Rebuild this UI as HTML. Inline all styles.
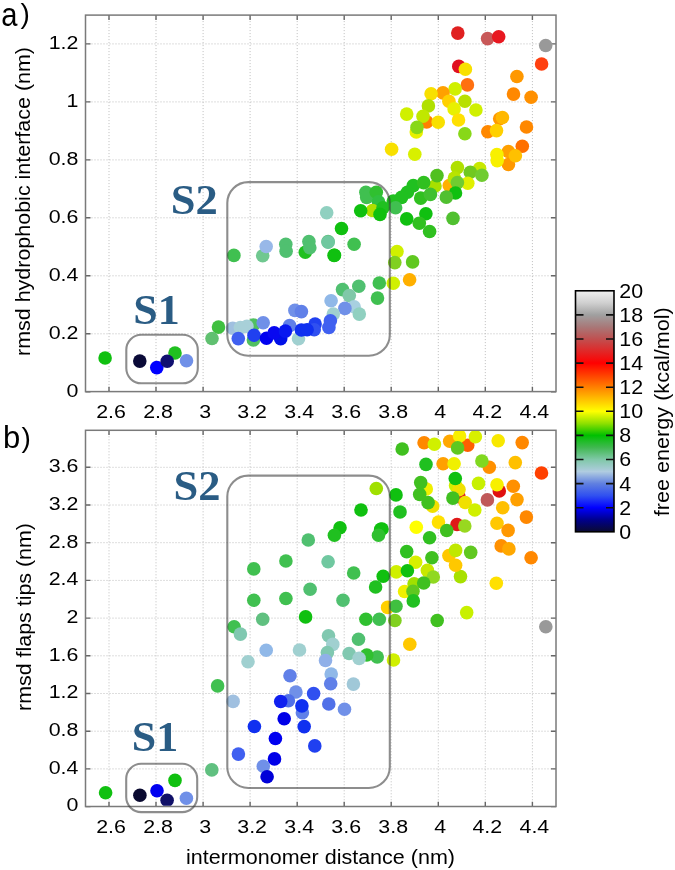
<!DOCTYPE html><html><head><meta charset="utf-8"><style>html,body{margin:0;padding:0;background:#fff;}svg{display:block;will-change:transform;}text{font-family:"Liberation Sans",sans-serif;}</style></head><body>
<svg width="675" height="870" viewBox="0 0 675 870">
<defs><linearGradient id="cb" x1="0" y1="1" x2="0" y2="0">
<stop offset="0.000" stop-color="#0a0a30"/>
<stop offset="0.050" stop-color="#00008c"/>
<stop offset="0.100" stop-color="#0000ff"/>
<stop offset="0.150" stop-color="#3050f0"/>
<stop offset="0.200" stop-color="#6080e0"/>
<stop offset="0.250" stop-color="#b0cce0"/>
<stop offset="0.300" stop-color="#80c8a8"/>
<stop offset="0.350" stop-color="#40b850"/>
<stop offset="0.400" stop-color="#00c000"/>
<stop offset="0.450" stop-color="#90e000"/>
<stop offset="0.500" stop-color="#ffff00"/>
<stop offset="0.550" stop-color="#ffc000"/>
<stop offset="0.600" stop-color="#ff8000"/>
<stop offset="0.650" stop-color="#ff4000"/>
<stop offset="0.700" stop-color="#ff0000"/>
<stop offset="0.750" stop-color="#e02828"/>
<stop offset="0.800" stop-color="#c05050"/>
<stop offset="0.850" stop-color="#a87878"/>
<stop offset="0.900" stop-color="#a0a0a0"/>
<stop offset="0.950" stop-color="#d0d0d0"/>
<stop offset="1.000" stop-color="#f0f0f0"/>
</linearGradient></defs>
<clipPath id="ca"><rect x="86.2" y="15.799999999999999" width="469.1" height="375.1"/></clipPath>
<clipPath id="cb2"><rect x="86.2" y="431.0" width="469.1" height="374.8"/></clipPath>
<path d="M109.0 15.1V391.6M156.0 15.1V391.6M203.1 15.1V391.6M250.1 15.1V391.6M297.2 15.1V391.6M344.2 15.1V391.6M391.2 15.1V391.6M438.3 15.1V391.6M485.3 15.1V391.6M532.4 15.1V391.6M85.5 333.8H556.0M85.5 275.8H556.0M85.5 217.8H556.0M85.5 159.9H556.0M85.5 101.9H556.0M85.5 43.9H556.0" stroke="#bdbdbd" stroke-width="1" stroke-dasharray="1 2" fill="none"/>
<path d="M109.0 391.6v-4.8M109.0 15.1v4.8M156.0 391.6v-4.8M156.0 15.1v4.8M203.1 391.6v-4.8M203.1 15.1v4.8M250.1 391.6v-4.8M250.1 15.1v4.8M297.2 391.6v-4.8M297.2 15.1v4.8M344.2 391.6v-4.8M344.2 15.1v4.8M391.2 391.6v-4.8M391.2 15.1v4.8M438.3 391.6v-4.8M438.3 15.1v4.8M485.3 391.6v-4.8M485.3 15.1v4.8M532.4 391.6v-4.8M532.4 15.1v4.8M85.5 391.8h5M556.0 391.8h-5M85.5 333.8h5M556.0 333.8h-5M85.5 275.8h5M556.0 275.8h-5M85.5 217.8h5M556.0 217.8h-5M85.5 159.9h5M556.0 159.9h-5M85.5 101.9h5M556.0 101.9h-5M85.5 43.9h5M556.0 43.9h-5" stroke="#666" stroke-width="1.4" fill="none"/>
<rect x="85.5" y="15.1" width="470.5" height="376.5" fill="none" stroke="#7a7a7a" stroke-width="1.5"/>
<text x="78.4" y="396.6" font-size="18.8" text-anchor="end" textLength="11.9" lengthAdjust="spacingAndGlyphs">0</text>
<text x="78.4" y="338.6" font-size="18.8" text-anchor="end" textLength="29.7" lengthAdjust="spacingAndGlyphs">0.2</text>
<text x="78.4" y="280.6" font-size="18.8" text-anchor="end" textLength="29.7" lengthAdjust="spacingAndGlyphs">0.4</text>
<text x="78.4" y="222.6" font-size="18.8" text-anchor="end" textLength="29.7" lengthAdjust="spacingAndGlyphs">0.6</text>
<text x="78.4" y="164.7" font-size="18.8" text-anchor="end" textLength="29.7" lengthAdjust="spacingAndGlyphs">0.8</text>
<text x="78.4" y="106.7" font-size="18.8" text-anchor="end" textLength="11.9" lengthAdjust="spacingAndGlyphs">1</text>
<text x="78.4" y="48.7" font-size="18.8" text-anchor="end" textLength="29.7" lengthAdjust="spacingAndGlyphs">1.2</text>
<text x="111.0" y="417.8" font-size="18.8" text-anchor="middle" textLength="29.7" lengthAdjust="spacingAndGlyphs">2.6</text>
<text x="158.0" y="417.8" font-size="18.8" text-anchor="middle" textLength="29.7" lengthAdjust="spacingAndGlyphs">2.8</text>
<text x="205.1" y="417.8" font-size="18.8" text-anchor="middle" textLength="11.9" lengthAdjust="spacingAndGlyphs">3</text>
<text x="252.1" y="417.8" font-size="18.8" text-anchor="middle" textLength="29.7" lengthAdjust="spacingAndGlyphs">3.2</text>
<text x="299.2" y="417.8" font-size="18.8" text-anchor="middle" textLength="29.7" lengthAdjust="spacingAndGlyphs">3.4</text>
<text x="346.2" y="417.8" font-size="18.8" text-anchor="middle" textLength="29.7" lengthAdjust="spacingAndGlyphs">3.6</text>
<text x="393.2" y="417.8" font-size="18.8" text-anchor="middle" textLength="29.7" lengthAdjust="spacingAndGlyphs">3.8</text>
<text x="440.3" y="417.8" font-size="18.8" text-anchor="middle" textLength="11.9" lengthAdjust="spacingAndGlyphs">4</text>
<text x="487.3" y="417.8" font-size="18.8" text-anchor="middle" textLength="29.7" lengthAdjust="spacingAndGlyphs">4.2</text>
<text x="534.4" y="417.8" font-size="18.8" text-anchor="middle" textLength="29.7" lengthAdjust="spacingAndGlyphs">4.4</text>
<path d="M109.0 430.3V806.5M156.0 430.3V806.5M203.1 430.3V806.5M250.1 430.3V806.5M297.2 430.3V806.5M344.2 430.3V806.5M391.2 430.3V806.5M438.3 430.3V806.5M485.3 430.3V806.5M532.4 430.3V806.5M85.5 768.9H556.0M85.5 731.2H556.0M85.5 693.5H556.0M85.5 655.8H556.0M85.5 618.1H556.0M85.5 580.4H556.0M85.5 542.7H556.0M85.5 505.0H556.0M85.5 467.3H556.0" stroke="#bdbdbd" stroke-width="1" stroke-dasharray="1 2" fill="none"/>
<path d="M109.0 806.5v-4.8M109.0 430.3v4.8M156.0 806.5v-4.8M156.0 430.3v4.8M203.1 806.5v-4.8M203.1 430.3v4.8M250.1 806.5v-4.8M250.1 430.3v4.8M297.2 806.5v-4.8M297.2 430.3v4.8M344.2 806.5v-4.8M344.2 430.3v4.8M391.2 806.5v-4.8M391.2 430.3v4.8M438.3 806.5v-4.8M438.3 430.3v4.8M485.3 806.5v-4.8M485.3 430.3v4.8M532.4 806.5v-4.8M532.4 430.3v4.8M85.5 806.6h5M556.0 806.6h-5M85.5 768.9h5M556.0 768.9h-5M85.5 731.2h5M556.0 731.2h-5M85.5 693.5h5M556.0 693.5h-5M85.5 655.8h5M556.0 655.8h-5M85.5 618.1h5M556.0 618.1h-5M85.5 580.4h5M556.0 580.4h-5M85.5 542.7h5M556.0 542.7h-5M85.5 505.0h5M556.0 505.0h-5M85.5 467.3h5M556.0 467.3h-5" stroke="#666" stroke-width="1.4" fill="none"/>
<rect x="85.5" y="430.3" width="470.5" height="376.2" fill="none" stroke="#7a7a7a" stroke-width="1.5"/>
<text x="78.4" y="811.4" font-size="18.8" text-anchor="end" textLength="11.9" lengthAdjust="spacingAndGlyphs">0</text>
<text x="78.4" y="773.7" font-size="18.8" text-anchor="end" textLength="29.7" lengthAdjust="spacingAndGlyphs">0.4</text>
<text x="78.4" y="736.0" font-size="18.8" text-anchor="end" textLength="29.7" lengthAdjust="spacingAndGlyphs">0.8</text>
<text x="78.4" y="698.3" font-size="18.8" text-anchor="end" textLength="29.7" lengthAdjust="spacingAndGlyphs">1.2</text>
<text x="78.4" y="660.6" font-size="18.8" text-anchor="end" textLength="29.7" lengthAdjust="spacingAndGlyphs">1.6</text>
<text x="78.4" y="622.9" font-size="18.8" text-anchor="end" textLength="11.9" lengthAdjust="spacingAndGlyphs">2</text>
<text x="78.4" y="585.2" font-size="18.8" text-anchor="end" textLength="29.7" lengthAdjust="spacingAndGlyphs">2.4</text>
<text x="78.4" y="547.5" font-size="18.8" text-anchor="end" textLength="29.7" lengthAdjust="spacingAndGlyphs">2.8</text>
<text x="78.4" y="509.8" font-size="18.8" text-anchor="end" textLength="29.7" lengthAdjust="spacingAndGlyphs">3.2</text>
<text x="78.4" y="472.1" font-size="18.8" text-anchor="end" textLength="29.7" lengthAdjust="spacingAndGlyphs">3.6</text>
<text x="111.0" y="832.7" font-size="18.8" text-anchor="middle" textLength="29.7" lengthAdjust="spacingAndGlyphs">2.6</text>
<text x="158.0" y="832.7" font-size="18.8" text-anchor="middle" textLength="29.7" lengthAdjust="spacingAndGlyphs">2.8</text>
<text x="205.1" y="832.7" font-size="18.8" text-anchor="middle" textLength="11.9" lengthAdjust="spacingAndGlyphs">3</text>
<text x="252.1" y="832.7" font-size="18.8" text-anchor="middle" textLength="29.7" lengthAdjust="spacingAndGlyphs">3.2</text>
<text x="299.2" y="832.7" font-size="18.8" text-anchor="middle" textLength="29.7" lengthAdjust="spacingAndGlyphs">3.4</text>
<text x="346.2" y="832.7" font-size="18.8" text-anchor="middle" textLength="29.7" lengthAdjust="spacingAndGlyphs">3.6</text>
<text x="393.2" y="832.7" font-size="18.8" text-anchor="middle" textLength="29.7" lengthAdjust="spacingAndGlyphs">3.8</text>
<text x="440.3" y="832.7" font-size="18.8" text-anchor="middle" textLength="11.9" lengthAdjust="spacingAndGlyphs">4</text>
<text x="487.3" y="832.7" font-size="18.8" text-anchor="middle" textLength="29.7" lengthAdjust="spacingAndGlyphs">4.2</text>
<text x="534.4" y="832.7" font-size="18.8" text-anchor="middle" textLength="29.7" lengthAdjust="spacingAndGlyphs">4.4</text>
<g clip-path="url(#ca)">
<circle cx="457.8" cy="33.1" r="6.8" fill="#e02020"/>
<circle cx="487.6" cy="38.6" r="6.8" fill="#c85858"/>
<circle cx="498.7" cy="36.7" r="6.8" fill="#e81820"/>
<circle cx="545.7" cy="45.5" r="6.8" fill="#999999"/>
<circle cx="458.8" cy="66.4" r="6.8" fill="#e01020"/>
<circle cx="465.4" cy="69.2" r="6.8" fill="#f8e000"/>
<circle cx="541.6" cy="64.0" r="6.8" fill="#ff4010"/>
<circle cx="516.9" cy="76.5" r="6.8" fill="#ff9800"/>
<circle cx="467.4" cy="84.9" r="6.8" fill="#ff7010"/>
<circle cx="455.1" cy="88.9" r="6.8" fill="#d0f000"/>
<circle cx="443.0" cy="92.9" r="6.8" fill="#ffa000"/>
<circle cx="431.1" cy="93.8" r="6.8" fill="#f8e000"/>
<circle cx="513.5" cy="94.1" r="6.8" fill="#ff8800"/>
<circle cx="531.1" cy="97.2" r="6.8" fill="#ff9000"/>
<circle cx="448.9" cy="101.2" r="6.8" fill="#ffd000"/>
<circle cx="464.9" cy="101.2" r="6.8" fill="#b8e000"/>
<circle cx="428.4" cy="105.9" r="6.8" fill="#b0e000"/>
<circle cx="454.1" cy="108.9" r="6.8" fill="#e8f000"/>
<circle cx="475.9" cy="110.0" r="6.8" fill="#d0f000"/>
<circle cx="406.7" cy="114.1" r="6.8" fill="#d0f000"/>
<circle cx="426.7" cy="121.9" r="6.8" fill="#ff8000"/>
<circle cx="423.0" cy="116.3" r="6.8" fill="#c0e800"/>
<circle cx="438.2" cy="122.2" r="6.8" fill="#f8e000"/>
<circle cx="458.5" cy="120.0" r="6.8" fill="#ffe000"/>
<circle cx="499.7" cy="118.7" r="6.8" fill="#ff9800"/>
<circle cx="502.4" cy="117.5" r="6.8" fill="#ffb800"/>
<circle cx="526.5" cy="127.0" r="6.8" fill="#ff8800"/>
<circle cx="416.3" cy="131.9" r="6.8" fill="#e8f000"/>
<circle cx="417.0" cy="127.4" r="6.8" fill="#88d818"/>
<circle cx="464.9" cy="133.8" r="6.8" fill="#88d818"/>
<circle cx="487.8" cy="131.8" r="6.8" fill="#ff8800"/>
<circle cx="496.5" cy="130.6" r="6.8" fill="#ffd000"/>
<circle cx="414.8" cy="154.2" r="6.8" fill="#d8f000"/>
<circle cx="391.6" cy="149.2" r="6.8" fill="#f8e000"/>
<circle cx="522.3" cy="146.2" r="6.8" fill="#ff7000"/>
<circle cx="508.4" cy="151.5" r="6.8" fill="#ffa000"/>
<circle cx="508.4" cy="164.5" r="6.8" fill="#ff9800"/>
<circle cx="515.4" cy="155.7" r="6.8" fill="#ffc000"/>
<circle cx="497.2" cy="160.6" r="6.8" fill="#f8f000"/>
<circle cx="496.9" cy="154.6" r="6.8" fill="#f8f000"/>
<circle cx="449.3" cy="185.5" r="6.8" fill="#ffb000"/>
<circle cx="435.0" cy="186.0" r="6.8" fill="#a8e000"/>
<circle cx="457.4" cy="167.6" r="6.8" fill="#b0e000"/>
<circle cx="479.6" cy="168.5" r="6.8" fill="#c8e800"/>
<circle cx="470.3" cy="172.2" r="6.8" fill="#70c820"/>
<circle cx="481.9" cy="175.2" r="6.8" fill="#70cc30"/>
<circle cx="437.0" cy="175.6" r="6.8" fill="#50c020"/>
<circle cx="454.4" cy="178.1" r="6.8" fill="#b8e400"/>
<circle cx="467.8" cy="183.3" r="6.8" fill="#e0f000"/>
<circle cx="457.4" cy="182.6" r="6.8" fill="#70cc30"/>
<circle cx="455.5" cy="193.0" r="6.8" fill="#10c010"/>
<circle cx="446.3" cy="197.1" r="6.8" fill="#50c030"/>
<circle cx="453.0" cy="218.4" r="6.8" fill="#50c030"/>
<circle cx="413.3" cy="185.6" r="6.8" fill="#20c020"/>
<circle cx="407.4" cy="192.2" r="6.8" fill="#20c020"/>
<circle cx="401.5" cy="197.4" r="6.8" fill="#20c020"/>
<circle cx="393.3" cy="201.1" r="6.8" fill="#20c020"/>
<circle cx="395.6" cy="207.8" r="6.8" fill="#40c050"/>
<circle cx="423.7" cy="182.6" r="6.8" fill="#30c020"/>
<circle cx="420.7" cy="198.1" r="6.8" fill="#30c020"/>
<circle cx="430.4" cy="194.4" r="6.8" fill="#40c030"/>
<circle cx="406.7" cy="218.9" r="6.8" fill="#10c010"/>
<circle cx="425.9" cy="213.7" r="6.8" fill="#10c010"/>
<circle cx="419.3" cy="223.3" r="6.8" fill="#30c020"/>
<circle cx="429.6" cy="231.5" r="6.8" fill="#30c020"/>
<circle cx="397.0" cy="251.5" r="6.8" fill="#d0f000"/>
<circle cx="394.8" cy="262.6" r="6.8" fill="#80d020"/>
<circle cx="412.6" cy="261.9" r="6.8" fill="#60c820"/>
<circle cx="393.3" cy="283.3" r="6.8" fill="#d0f000"/>
<circle cx="409.6" cy="279.7" r="6.8" fill="#ffb000"/>
<circle cx="379.3" cy="283.0" r="6.8" fill="#40c050"/>
<circle cx="377.5" cy="298.1" r="6.8" fill="#40c050"/>
<circle cx="365.9" cy="192.2" r="6.8" fill="#40c050"/>
<circle cx="366.7" cy="197.4" r="6.8" fill="#40c050"/>
<circle cx="376.3" cy="192.2" r="6.8" fill="#30c030"/>
<circle cx="378.5" cy="201.9" r="6.8" fill="#30c040"/>
<circle cx="372.5" cy="210.5" r="6.8" fill="#b0e000"/>
<circle cx="383.0" cy="207.8" r="6.8" fill="#20c020"/>
<circle cx="380.0" cy="214.4" r="6.8" fill="#10c010"/>
<circle cx="360.7" cy="210.7" r="6.8" fill="#10c010"/>
<circle cx="341.5" cy="228.5" r="6.8" fill="#10c010"/>
<circle cx="354.1" cy="244.2" r="6.8" fill="#40c050"/>
<circle cx="334.5" cy="255.3" r="6.8" fill="#10c010"/>
<circle cx="326.7" cy="212.8" r="6.8" fill="#90d0c0"/>
<circle cx="328.1" cy="241.6" r="6.8" fill="#60c080"/>
<circle cx="334.1" cy="255.4" r="6.8" fill="#10c010"/>
<circle cx="305.3" cy="252.2" r="6.8" fill="#20c020"/>
<circle cx="308.9" cy="241.6" r="6.8" fill="#50c070"/>
<circle cx="309.8" cy="247.8" r="6.8" fill="#50c070"/>
<circle cx="285.8" cy="244.2" r="6.8" fill="#50c070"/>
<circle cx="286.1" cy="251.3" r="6.8" fill="#50c070"/>
<circle cx="262.7" cy="255.8" r="6.8" fill="#70c890"/>
<circle cx="266.2" cy="246.5" r="6.8" fill="#98b8e8"/>
<circle cx="233.9" cy="255.4" r="6.8" fill="#40c050"/>
<circle cx="328.1" cy="242.2" r="6.8" fill="#70c8a0"/>
<circle cx="358.8" cy="286.2" r="6.8" fill="#50c070"/>
<circle cx="342.5" cy="289.6" r="6.8" fill="#50c070"/>
<circle cx="349.3" cy="295.6" r="6.8" fill="#80c8a8"/>
<circle cx="331.1" cy="300.7" r="6.8" fill="#90b8e8"/>
<circle cx="354.1" cy="306.7" r="6.8" fill="#a8d0e0"/>
<circle cx="344.9" cy="308.4" r="6.8" fill="#7090e8"/>
<circle cx="333.3" cy="314.1" r="6.8" fill="#a0d0d0"/>
<circle cx="359.3" cy="314.1" r="6.8" fill="#90d0c0"/>
<circle cx="330.4" cy="320.7" r="6.8" fill="#4060f0"/>
<circle cx="328.9" cy="327.4" r="6.8" fill="#4060f0"/>
<circle cx="315.1" cy="324.1" r="6.8" fill="#2040f0"/>
<circle cx="314.2" cy="329.8" r="6.8" fill="#3050f0"/>
<circle cx="253.4" cy="325.0" r="6.8" fill="#50c060"/>
<circle cx="253.4" cy="340.0" r="6.8" fill="#50c060"/>
<circle cx="232.7" cy="328.2" r="6.8" fill="#a0c0e0"/>
<circle cx="240.4" cy="327.6" r="6.8" fill="#a8d0d8"/>
<circle cx="246.9" cy="326.4" r="6.8" fill="#a8d0d8"/>
<circle cx="263.2" cy="322.8" r="6.8" fill="#7090e8"/>
<circle cx="238.3" cy="338.6" r="6.8" fill="#4060f0"/>
<circle cx="254.0" cy="335.3" r="6.8" fill="#2040f0"/>
<circle cx="298.5" cy="338.8" r="6.8" fill="#a0d0d0"/>
<circle cx="289.6" cy="325.6" r="6.8" fill="#6080e8"/>
<circle cx="294.9" cy="310.4" r="6.8" fill="#7090e8"/>
<circle cx="301.4" cy="311.6" r="6.8" fill="#6080e8"/>
<circle cx="266.5" cy="338.2" r="6.8" fill="#0000f0"/>
<circle cx="280.7" cy="338.8" r="6.8" fill="#0010e8"/>
<circle cx="274.2" cy="332.9" r="6.8" fill="#0808f0"/>
<circle cx="285.4" cy="331.1" r="6.8" fill="#0818f0"/>
<circle cx="301.4" cy="330.0" r="6.8" fill="#1030f0"/>
<circle cx="307.1" cy="329.8" r="6.8" fill="#1030f0"/>
<circle cx="105.1" cy="358.0" r="6.8" fill="#10c010"/>
<circle cx="175.0" cy="353.0" r="6.8" fill="#20c020"/>
<circle cx="139.8" cy="361.1" r="6.8" fill="#0a0a38"/>
<circle cx="156.8" cy="367.6" r="6.8" fill="#0000ff"/>
<circle cx="167.2" cy="361.3" r="6.8" fill="#101070"/>
<circle cx="186.5" cy="360.7" r="6.8" fill="#7090e8"/>
<circle cx="218.5" cy="327.1" r="6.8" fill="#40c040"/>
<circle cx="212.0" cy="338.5" r="6.8" fill="#60c070"/>
</g>
<g clip-path="url(#cb2)">
<circle cx="402.2" cy="449.0" r="6.8" fill="#40c020"/>
<circle cx="424.1" cy="442.8" r="6.8" fill="#ff8800"/>
<circle cx="434.4" cy="444.3" r="6.8" fill="#d0f000"/>
<circle cx="449.7" cy="441.3" r="6.8" fill="#ffa800"/>
<circle cx="467.7" cy="445.2" r="6.8" fill="#ff6000"/>
<circle cx="459.6" cy="436.0" r="6.8" fill="#f8f000"/>
<circle cx="475.4" cy="436.8" r="6.8" fill="#d8f000"/>
<circle cx="457.6" cy="447.9" r="6.8" fill="#60c820"/>
<circle cx="498.2" cy="440.8" r="6.8" fill="#f8e800"/>
<circle cx="522.2" cy="442.6" r="6.8" fill="#ff8800"/>
<circle cx="426.0" cy="464.4" r="6.8" fill="#20c020"/>
<circle cx="443.1" cy="463.8" r="6.8" fill="#ffa000"/>
<circle cx="454.1" cy="463.8" r="6.8" fill="#f0f000"/>
<circle cx="489.3" cy="467.3" r="6.8" fill="#ff9000"/>
<circle cx="481.9" cy="461.0" r="6.8" fill="#80d820"/>
<circle cx="515.3" cy="462.6" r="6.8" fill="#ffc000"/>
<circle cx="541.5" cy="473.0" r="6.8" fill="#ff4000"/>
<circle cx="478.5" cy="483.4" r="6.8" fill="#c8f000"/>
<circle cx="455.6" cy="485.6" r="6.8" fill="#d0f000"/>
<circle cx="459.0" cy="496.8" r="6.8" fill="#e02020"/>
<circle cx="459.0" cy="489.6" r="6.8" fill="#f0e000"/>
<circle cx="455.3" cy="478.5" r="6.8" fill="#10c010"/>
<circle cx="426.3" cy="489.0" r="6.8" fill="#f0f000"/>
<circle cx="420.7" cy="482.6" r="6.8" fill="#40c020"/>
<circle cx="419.7" cy="494.4" r="6.8" fill="#40c020"/>
<circle cx="432.6" cy="506.3" r="6.8" fill="#f0e000"/>
<circle cx="428.1" cy="502.6" r="6.8" fill="#40c020"/>
<circle cx="396.0" cy="494.9" r="6.8" fill="#10c010"/>
<circle cx="376.3" cy="488.5" r="6.8" fill="#a0e000"/>
<circle cx="400.0" cy="512.0" r="6.8" fill="#20c020"/>
<circle cx="452.9" cy="498.1" r="6.8" fill="#40c020"/>
<circle cx="465.2" cy="502.5" r="6.8" fill="#f0e000"/>
<circle cx="474.8" cy="510.0" r="6.8" fill="#d0f000"/>
<circle cx="499.3" cy="491.0" r="6.8" fill="#e01010"/>
<circle cx="497.0" cy="484.8" r="6.8" fill="#f8f000"/>
<circle cx="513.3" cy="486.3" r="6.8" fill="#ff9000"/>
<circle cx="487.4" cy="499.9" r="6.8" fill="#c05858"/>
<circle cx="517.0" cy="499.6" r="6.8" fill="#ffa000"/>
<circle cx="502.7" cy="507.8" r="6.8" fill="#ffc000"/>
<circle cx="526.4" cy="517.1" r="6.8" fill="#ff8800"/>
<circle cx="497.0" cy="523.2" r="6.8" fill="#ffc800"/>
<circle cx="508.1" cy="530.4" r="6.8" fill="#ff9800"/>
<circle cx="457.0" cy="524.5" r="6.8" fill="#e01818"/>
<circle cx="464.8" cy="526.0" r="6.8" fill="#98d820"/>
<circle cx="438.5" cy="522.1" r="6.8" fill="#ffe000"/>
<circle cx="416.3" cy="527.2" r="6.8" fill="#ffff00"/>
<circle cx="446.7" cy="530.5" r="6.8" fill="#40c020"/>
<circle cx="382.0" cy="529.0" r="6.8" fill="#10c010"/>
<circle cx="429.6" cy="537.8" r="6.8" fill="#30c020"/>
<circle cx="501.2" cy="545.9" r="6.8" fill="#ff9000"/>
<circle cx="508.9" cy="548.9" r="6.8" fill="#ffa800"/>
<circle cx="531.1" cy="557.8" r="6.8" fill="#ff8800"/>
<circle cx="470.7" cy="552.4" r="6.8" fill="#60c820"/>
<circle cx="496.3" cy="583.2" r="6.8" fill="#ffe000"/>
<circle cx="460.5" cy="576.6" r="6.8" fill="#a8e000"/>
<circle cx="466.7" cy="612.6" r="6.8" fill="#c8f000"/>
<circle cx="406.7" cy="551.6" r="6.8" fill="#30c020"/>
<circle cx="431.9" cy="557.8" r="6.8" fill="#40c020"/>
<circle cx="448.9" cy="555.6" r="6.8" fill="#ffc800"/>
<circle cx="455.6" cy="550.4" r="6.8" fill="#c0e800"/>
<circle cx="415.6" cy="562.2" r="6.8" fill="#d8f000"/>
<circle cx="455.6" cy="565.2" r="6.8" fill="#ffc800"/>
<circle cx="396.3" cy="571.9" r="6.8" fill="#d0f000"/>
<circle cx="407.4" cy="570.7" r="6.8" fill="#10c010"/>
<circle cx="427.4" cy="570.4" r="6.8" fill="#c8e800"/>
<circle cx="433.3" cy="577.0" r="6.8" fill="#90d820"/>
<circle cx="383.2" cy="576.3" r="6.8" fill="#10c010"/>
<circle cx="414.1" cy="583.7" r="6.8" fill="#a0e000"/>
<circle cx="423.7" cy="583.0" r="6.8" fill="#40c020"/>
<circle cx="404.6" cy="591.5" r="6.8" fill="#f0f000"/>
<circle cx="413.0" cy="591.2" r="6.8" fill="#60c820"/>
<circle cx="413.3" cy="600.9" r="6.8" fill="#20c020"/>
<circle cx="387.6" cy="607.4" r="6.8" fill="#ffd000"/>
<circle cx="396.0" cy="606.2" r="6.8" fill="#40c040"/>
<circle cx="437.2" cy="620.5" r="6.8" fill="#40c020"/>
<circle cx="394.9" cy="620.5" r="6.8" fill="#80d020"/>
<circle cx="409.8" cy="644.3" r="6.8" fill="#ffc800"/>
<circle cx="377.2" cy="657.0" r="6.8" fill="#40c050"/>
<circle cx="393.5" cy="660.0" r="6.8" fill="#d0f000"/>
<circle cx="545.8" cy="626.7" r="6.8" fill="#999999"/>
<circle cx="375.6" cy="587.0" r="6.8" fill="#20c020"/>
<circle cx="361.0" cy="510.0" r="6.8" fill="#10c010"/>
<circle cx="340.0" cy="527.8" r="6.8" fill="#10c010"/>
<circle cx="334.4" cy="535.2" r="6.8" fill="#20c020"/>
<circle cx="380.7" cy="529.3" r="6.8" fill="#10c010"/>
<circle cx="378.5" cy="535.2" r="6.8" fill="#30c030"/>
<circle cx="308.3" cy="540.0" r="6.8" fill="#50c070"/>
<circle cx="328.1" cy="561.8" r="6.8" fill="#70c8a0"/>
<circle cx="353.7" cy="573.0" r="6.8" fill="#40c050"/>
<circle cx="310.1" cy="589.3" r="6.8" fill="#50c070"/>
<circle cx="343.0" cy="600.3" r="6.8" fill="#50c070"/>
<circle cx="305.6" cy="616.9" r="6.8" fill="#10c010"/>
<circle cx="365.9" cy="619.3" r="6.8" fill="#30c030"/>
<circle cx="379.3" cy="619.3" r="6.8" fill="#40c050"/>
<circle cx="358.5" cy="639.3" r="6.8" fill="#50c070"/>
<circle cx="328.5" cy="635.8" r="6.8" fill="#80c8b0"/>
<circle cx="332.8" cy="644.4" r="6.8" fill="#a0d0d0"/>
<circle cx="327.4" cy="652.6" r="6.8" fill="#80c8b0"/>
<circle cx="299.5" cy="650.0" r="6.8" fill="#a0d0d0"/>
<circle cx="366.8" cy="655.0" r="6.8" fill="#30c030"/>
<circle cx="349.1" cy="653.5" r="6.8" fill="#80c8b0"/>
<circle cx="359.1" cy="658.4" r="6.8" fill="#a0d0d0"/>
<circle cx="325.5" cy="660.5" r="6.8" fill="#90b0e8"/>
<circle cx="331.2" cy="674.1" r="6.8" fill="#90b8e8"/>
<circle cx="330.7" cy="683.7" r="6.8" fill="#6080e8"/>
<circle cx="353.4" cy="684.1" r="6.8" fill="#a0c8d8"/>
<circle cx="290.0" cy="675.8" r="6.8" fill="#6080e8"/>
<circle cx="295.9" cy="692.0" r="6.8" fill="#7090e8"/>
<circle cx="313.6" cy="693.6" r="6.8" fill="#3050f0"/>
<circle cx="288.4" cy="700.7" r="6.8" fill="#5070e8"/>
<circle cx="280.7" cy="701.5" r="6.8" fill="#1020f0"/>
<circle cx="302.4" cy="712.8" r="6.8" fill="#6080e8"/>
<circle cx="301.9" cy="705.9" r="6.8" fill="#1030f0"/>
<circle cx="284.2" cy="718.8" r="6.8" fill="#0000e8"/>
<circle cx="254.4" cy="726.5" r="6.8" fill="#1030f0"/>
<circle cx="304.2" cy="726.6" r="6.8" fill="#1030f0"/>
<circle cx="275.4" cy="738.5" r="6.8" fill="#0000f0"/>
<circle cx="314.8" cy="745.9" r="6.8" fill="#2040f0"/>
<circle cx="328.8" cy="704.0" r="6.8" fill="#5070e8"/>
<circle cx="344.5" cy="709.3" r="6.8" fill="#7090e8"/>
<circle cx="238.4" cy="754.1" r="6.8" fill="#4060f0"/>
<circle cx="274.5" cy="758.9" r="6.8" fill="#0000e8"/>
<circle cx="263.3" cy="766.3" r="6.8" fill="#7090e8"/>
<circle cx="267.1" cy="776.7" r="6.8" fill="#0000d8"/>
<circle cx="253.8" cy="568.9" r="6.8" fill="#40c050"/>
<circle cx="285.9" cy="561.0" r="6.8" fill="#40c050"/>
<circle cx="253.8" cy="600.3" r="6.8" fill="#40c050"/>
<circle cx="285.9" cy="598.5" r="6.8" fill="#40c050"/>
<circle cx="262.7" cy="619.3" r="6.8" fill="#60c080"/>
<circle cx="234.1" cy="626.7" r="6.8" fill="#40c050"/>
<circle cx="240.4" cy="634.1" r="6.8" fill="#80c8b0"/>
<circle cx="266.2" cy="650.3" r="6.8" fill="#90b8e8"/>
<circle cx="248.0" cy="661.8" r="6.8" fill="#a0d0d0"/>
<circle cx="233.1" cy="701.4" r="6.8" fill="#a0c0e0"/>
<circle cx="217.6" cy="685.9" r="6.8" fill="#40c050"/>
<circle cx="105.6" cy="792.8" r="6.8" fill="#10c010"/>
<circle cx="175.0" cy="780.4" r="6.8" fill="#10c010"/>
<circle cx="139.9" cy="795.2" r="6.8" fill="#0a0a30"/>
<circle cx="157.0" cy="790.7" r="6.8" fill="#0000f0"/>
<circle cx="167.1" cy="800.2" r="6.8" fill="#101068"/>
<circle cx="186.4" cy="798.2" r="6.8" fill="#7090e8"/>
<circle cx="211.8" cy="769.9" r="6.8" fill="#60c080"/>
</g>
<rect x="227.3" y="182.1" width="162.5" height="173.6" rx="21" fill="none" stroke="#3a3a3a" stroke-opacity="0.58" stroke-width="2.1"/>
<rect x="126.3" y="334.8" width="71.5" height="48.5" rx="15" fill="none" stroke="#3a3a3a" stroke-opacity="0.58" stroke-width="2.1"/>
<rect x="227.3" y="475.6" width="162.5" height="312.4" rx="21" fill="none" stroke="#3a3a3a" stroke-opacity="0.58" stroke-width="2.1"/>
<rect x="126.2" y="763.8" width="71" height="48.3" rx="15" fill="none" stroke="#3a3a3a" stroke-opacity="0.58" stroke-width="2.1"/>
<text x="170.8" y="213.5" font-size="42" style="font-family:'Liberation Serif',serif;font-weight:bold;fill:#2a5c84" textLength="47" lengthAdjust="spacingAndGlyphs">S2</text>
<text x="133.3" y="324" font-size="42" style="font-family:'Liberation Serif',serif;font-weight:bold;fill:#2a5c84" textLength="46.5" lengthAdjust="spacingAndGlyphs">S1</text>
<text x="173.6" y="500.3" font-size="42" style="font-family:'Liberation Serif',serif;font-weight:bold;fill:#2a5c84" textLength="47" lengthAdjust="spacingAndGlyphs">S2</text>
<text x="131.8" y="750.9" font-size="42" style="font-family:'Liberation Serif',serif;font-weight:bold;fill:#2a5c84" textLength="46.5" lengthAdjust="spacingAndGlyphs">S1</text>
<text x="1.3" y="25.7" font-size="33" textLength="16.2" lengthAdjust="spacingAndGlyphs">a</text>
<text x="20.5" y="22.5" font-size="28">)</text>
<text x="3" y="447.7" font-size="31">b</text>
<text x="21.5" y="446.5" font-size="28">)</text>
<text transform="translate(29.8,356) rotate(-90)" font-size="20" textLength="309" lengthAdjust="spacingAndGlyphs">rmsd hydrophobic interface (nm)</text>
<text transform="translate(30.7,711) rotate(-90)" font-size="20" textLength="188" lengthAdjust="spacingAndGlyphs">rmsd flaps tips (nm)</text>
<text x="186" y="864.3" font-size="20" textLength="269" lengthAdjust="spacingAndGlyphs">intermonomer distance (nm)</text>
<rect x="575.5" y="290.8" width="38.5" height="240.99999999999994" fill="url(#cb)" stroke="#000" stroke-width="1.6"/>
<path d="M575.5 507.7h8M614 507.7h-8M575.5 483.6h8M614 483.6h-8M575.5 459.5h8M614 459.5h-8M575.5 435.4h8M614 435.4h-8M575.5 411.3h8M614 411.3h-8M575.5 387.2h8M614 387.2h-8M575.5 363.1h8M614 363.1h-8M575.5 339.0h8M614 339.0h-8M575.5 314.9h8M614 314.9h-8" stroke="#111" stroke-width="1.6"/>
<text x="619.3" y="538.7" font-size="19.6" textLength="11.9" lengthAdjust="spacingAndGlyphs">0</text>
<text x="619.3" y="514.6" font-size="19.6" textLength="11.9" lengthAdjust="spacingAndGlyphs">2</text>
<text x="619.3" y="490.5" font-size="19.6" textLength="11.9" lengthAdjust="spacingAndGlyphs">4</text>
<text x="619.3" y="466.4" font-size="19.6" textLength="11.9" lengthAdjust="spacingAndGlyphs">6</text>
<text x="619.3" y="442.3" font-size="19.6" textLength="11.9" lengthAdjust="spacingAndGlyphs">8</text>
<text x="619.3" y="418.2" font-size="19.6" textLength="23.8" lengthAdjust="spacingAndGlyphs">10</text>
<text x="619.3" y="394.1" font-size="19.6" textLength="23.8" lengthAdjust="spacingAndGlyphs">12</text>
<text x="619.3" y="370.0" font-size="19.6" textLength="23.8" lengthAdjust="spacingAndGlyphs">14</text>
<text x="619.3" y="345.9" font-size="19.6" textLength="23.8" lengthAdjust="spacingAndGlyphs">16</text>
<text x="619.3" y="321.8" font-size="19.6" textLength="23.8" lengthAdjust="spacingAndGlyphs">18</text>
<text x="619.3" y="297.7" font-size="19.6" textLength="23.8" lengthAdjust="spacingAndGlyphs">20</text>
<text transform="translate(668.8,516.2) rotate(-90)" font-size="19.5" textLength="209" lengthAdjust="spacingAndGlyphs">free energy (kcal/mol)</text>
</svg></body></html>
